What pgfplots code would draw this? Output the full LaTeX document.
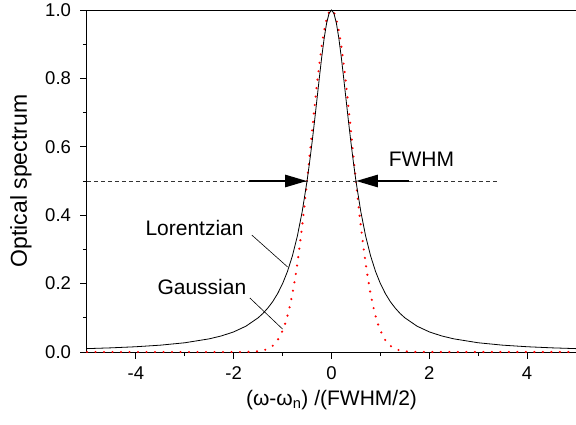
\documentclass[border=0pt]{standalone}
\usepackage{fontspec}
\setmainfont{Liberation Sans}
\usepackage{pgfplots}
\pgfplotsset{compat=1.18}
\usetikzlibrary{arrows.meta}
\begin{document}
\begin{tikzpicture}
\begin{axis}[
  scale only axis, width=489pt, height=342pt,
  xmin=-5, xmax=5, ymin=0, ymax=1,
  xtick={-4,-2,0,2,4}, xticklabels={-4,-2,0,2,4},
  ytick={0,0.2,0.4,0.6,0.8,1}, yticklabels={0.0,0.2,0.4,0.6,0.8,1.0},
  minor x tick num=1, minor y tick num=1,
  tick align=outside, xtick pos=bottom, ytick pos=left,
  major tick length=6.5pt, minor tick length=4pt,
  tick style={black, line width=0.8pt},
  axis line style={line width=1pt},
  ticklabel style={font=\fontsize{18.5}{22}\selectfont},
  xticklabel style={yshift=-5pt},
  yticklabel style={xshift=-6pt},
  xlabel={(ω-ω\textsubscript{n}) /(FWHM/2)},
  ylabel={Optical spectrum},
  xlabel style={font=\fontsize{21}{25}\selectfont, at={(axis description cs:0.5,-0.14)}, anchor=center},
  ylabel style={font=\fontsize{23}{27}\selectfont, at={(axis description cs:-0.135,0.5)}, anchor=center, rotate=0},
  clip=false,
]
% Gaussian (red dotted)
\addplot[red, line width=2.4pt, line cap=round, dash pattern=on 0pt off 8.5pt] coordinates {
(-5,0) (-3,0) (-2,0) (-1.7,0.0003) (-1.5,0.0020) (-1.4,0.0044) (-1.3,0.0092) (-1.2,0.0185) (-1.1,0.0349)
(-1.0,0.0625) (-0.95,0.0819) (-0.9,0.1058) (-0.85,0.1349) (-0.8,0.1696) (-0.75,0.2102) (-0.7,0.2570)
(-0.65,0.3099) (-0.6,0.3686) (-0.55,0.4323) (-0.5,0.5) (-0.45,0.5704) (-0.4,0.6417) (-0.35,0.7120)
(-0.3,0.7792) (-0.25,0.8409) (-0.2,0.8950) (-0.15,0.9395) (-0.1,0.9727) (-0.05,0.9931) (0,1)
(0.05,0.9931) (0.1,0.9727) (0.15,0.9395) (0.2,0.8950) (0.25,0.8409) (0.3,0.7792) (0.35,0.7120)
(0.4,0.6417) (0.45,0.5704) (0.5,0.5) (0.55,0.4323) (0.6,0.3686) (0.65,0.3099) (0.7,0.2570)
(0.75,0.2102) (0.8,0.1696) (0.85,0.1349) (0.9,0.1058) (0.95,0.0819) (1.0,0.0625) (1.1,0.0349)
(1.2,0.0185) (1.3,0.0092) (1.4,0.0044) (1.5,0.0020) (1.7,0.0003) (2,0) (3,0) (5,0)
};
% Lorentzian (black)
\addplot[black, line width=0.8pt] coordinates {
(-5,0.0099) (-4.5,0.0122) (-4,0.0154) (-3.5,0.0200) (-3,0.0270) (-2.5,0.0385) (-2.25,0.0471)
(-2,0.0588) (-1.75,0.0755) (-1.5,0.1) (-1.4,0.1131) (-1.3,0.1289) (-1.2,0.1479) (-1.1,0.1712)
(-1.0,0.2) (-0.9,0.2358) (-0.8,0.2809) (-0.7,0.3378) (-0.6,0.4098) (-0.5,0.5) (-0.45,0.5525)
(-0.4,0.6098) (-0.35,0.6711) (-0.3,0.7353) (-0.25,0.8) (-0.2,0.8621) (-0.15,0.9174) (-0.1,0.9615)
(-0.05,0.9901) (0,1)
(0.05,0.9901) (0.1,0.9615) (0.15,0.9174) (0.2,0.8621) (0.25,0.8) (0.3,0.7353) (0.35,0.6711)
(0.4,0.6098) (0.45,0.5525) (0.5,0.5) (0.6,0.4098) (0.7,0.3378) (0.8,0.2809) (0.9,0.2358)
(1.0,0.2) (1.1,0.1712) (1.2,0.1479) (1.3,0.1289) (1.4,0.1131) (1.5,0.1) (1.75,0.0755)
(2,0.0588) (2.25,0.0471) (2.5,0.0385) (3,0.0270) (3.5,0.0200) (4,0.0154) (4.5,0.0122) (5,0.0099)
};
% annotations
\draw[black!80, line width=0.6pt, dash pattern=on 4pt off 3pt] (axis cs:-5,0.5) -- (axis cs:3.4,0.5);
\draw[line width=2.8pt, -{Triangle[length=22pt,width=12pt]}] (axis cs:-1.69,0.5) -- (axis cs:-0.5,0.5);
\draw[line width=2.8pt, -{Triangle[length=22pt,width=12pt]}] (axis cs:1.59,0.5) -- (axis cs:0.5,0.5);
\node[inner sep=0, font=\fontsize{21}{25}\selectfont] at (axis cs:1.84,0.564) {FWHM};
\node[inner sep=0, font=\fontsize{21}{25}\selectfont] at (axis cs:-2.80,0.363) {Lorentzian};
\node[inner sep=0, font=\fontsize{21}{25}\selectfont] at (axis cs:-2.65,0.190) {Gaussian};
\draw[line width=0.6pt] (axis cs:-1.63,0.342) -- (axis cs:-0.90,0.249);
\draw[line width=0.6pt] (axis cs:-1.67,0.158) -- (axis cs:-1.0,0.067);
\end{axis}
\pgfresetboundingbox
\path (current axis.south west) ++(-87pt,-72pt) rectangle ++(576pt,424pt);
\end{tikzpicture}
\end{document}
